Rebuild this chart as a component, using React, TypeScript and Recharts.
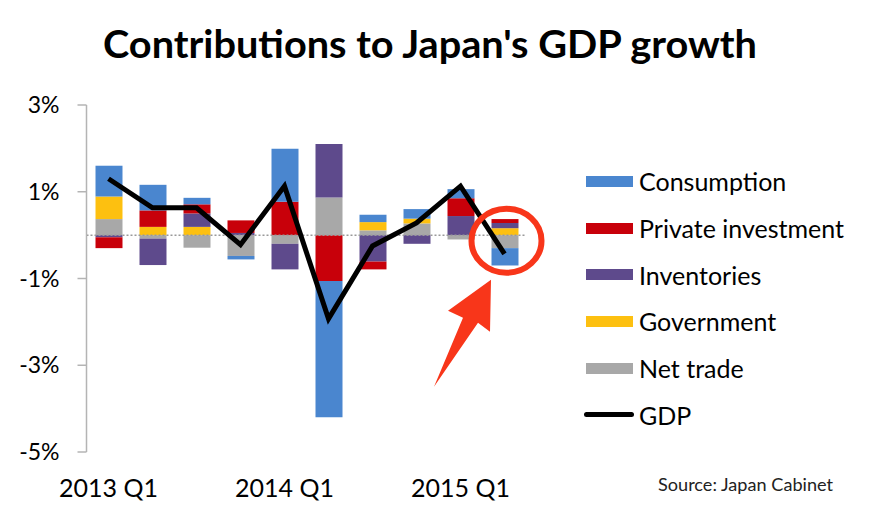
import React from 'react';
import { ComposedChart, Bar, Line, XAxis, YAxis, ReferenceLine, ReferenceDot, Legend } from 'recharts';

// quarterly contributions to real GDP growth, percentage points
const quarters = ['2013 Q1', '2013 Q2', '2013 Q3', '2013 Q4', '2014 Q1', '2014 Q2', '2014 Q3', '2014 Q4', '2015 Q1', '2015 Q2'];
const consumption = [0.71, 0.59, 0.15, -0.08, 1.22, -3.14, 0.17, 0.22, 0.21, -0.4];
const privateInvestment = [-0.25, 0.38, 0.21, 0.29, 0.77, -1.06, -0.18, 0, 0.41, 0.09];
const inventories = [-0.05, -0.61, 0.31, 0.05, -0.59, 1.23, -0.61, -0.2, 0.44, 0.12];
const government = [0.52, 0.19, 0.19, 0, 0, 0, 0.19, 0.11, 0, 0.16];
const netTrade = [0.37, -0.08, -0.29, -0.48, -0.2, 0.87, 0.11, 0.27, -0.1, -0.3];
const gdp = [1.3, 0.63, 0.63, -0.22, 1.13, -1.93, -0.25, 0.28, 1.13, -0.43];
const yTicks = [-5, -3, -1, 1, 3];

const COLORS = {
  consumption: '#4a86cf',
  privateInvestment: '#c8000a',
  inventories: '#5e4a8c',
  government: '#fdc010',
  netTrade: '#a8a8a8',
  gdp: '#000000',
};

// legend order differs from stacking order
const legendItems = [
  { name: 'Consumption', color: COLORS.consumption, line: false },
  { name: 'Private investment', color: COLORS.privateInvestment, line: false },
  { name: 'Inventories', color: COLORS.inventories, line: false },
  { name: 'Government', color: COLORS.government, line: false },
  { name: 'Net trade', color: COLORS.netTrade, line: false },
  { name: 'GDP', color: COLORS.gdp, line: true },
];

const data = quarters.map((q, i) => ({
  quarter: q,
  netTrade: netTrade[i],
  government: government[i],
  inventories: inventories[i],
  privateInvestment: privateInvestment[i],
  consumption: consumption[i],
  gdp: gdp[i],
}));

const FONT = 'Lato, "Open Sans", sans-serif';

const renderLegend = () => (
  <div style={{ fontFamily: FONT, fontSize: 25, color: '#000' }}>
    {legendItems.map(item => (
      <div key={item.name} style={{ height: 46.7, display: 'flex', alignItems: 'center' }}>
        {item.line ? (
          <span style={{ display: 'inline-block', width: 50, height: 5, borderRadius: 3, background: item.color, marginLeft: -2, marginRight: 5 }} />
        ) : (
          <span style={{ display: 'inline-block', width: 47, height: 11, background: item.color, marginRight: 6 }} />
        )}
        <span>{item.name}</span>
      </div>
    ))}
  </div>
);

// red circle + arrow pointing at the latest quarter
const Annotation = (props: any) => {
  const { cx, cy } = props;
  const pts = [
    [-70.5, 146], [-41.5, 77], [-56.5, 70], [-13.5, 39], [-14.5, 91], [-26.5, 82],
  ].map(([dx, dy]) => `${cx + dx},${cy + dy}`).join(' ');
  return (
    <g>
      <ellipse cx={cx + 2} cy={cy} rx={35} ry={32} fill="none" stroke="#f8361a" strokeWidth={6} />
      <polygon points={pts} fill="#f8361a" />
    </g>
  );
};

export default function App() {
  return (
    <div style={{ margin: -8, position: 'relative', width: 872, height: 521, background: '#fff', fontFamily: FONT }}>
      <svg width={872} height={521} style={{ position: 'absolute', left: 0, top: 0, pointerEvents: 'none' }}>
        <text x={103} y={58} fontFamily={FONT} fontWeight={700} fontSize={39} fill="#000" textLength={654} lengthAdjust="spacingAndGlyphs">
          Contributions to Japan's GDP growth
        </text>
        <text x={658} y={491} fontFamily={FONT} fontSize={17} fill="#222" textLength={175} lengthAdjust="spacingAndGlyphs">
          Source: Japan Cabinet
        </text>
      </svg>
      <ComposedChart
        width={872}
        height={521}
        data={data}
        stackOffset="sign"
        margin={{ top: 105, right: 345.5, left: 16.5, bottom: 29 }}
      >
        <XAxis
          dataKey="quarter"
          interval={3}
          axisLine={false}
          tickLine={false}
          tickSize={0}
          tickMargin={27}
          height={40}
          tick={{ fontSize: 25, fill: '#000', fontFamily: FONT }}
        />
        <YAxis
          domain={[-5, 3]}
          ticks={yTicks}
          width={70}
          tickFormatter={v => `${v}%`}
          axisLine={{ stroke: '#b4b4b4', strokeWidth: 1.5 }}
          tickLine={{ stroke: '#b4b4b4', strokeWidth: 1.5 }}
          tickSize={9}
          tickMargin={18}
          tick={{ fontSize: 23, fill: '#000', fontFamily: FONT }}
        />
        <ReferenceLine y={0} stroke="#9a9a9a" strokeWidth={1.5} strokeDasharray="2 2" />
        <Bar dataKey="netTrade" name="Net trade" stackId="a" fill={COLORS.netTrade} barSize={27} isAnimationActive={false} />
        <Bar dataKey="government" name="Government" stackId="a" fill={COLORS.government} barSize={27} isAnimationActive={false} />
        <Bar dataKey="inventories" name="Inventories" stackId="a" fill={COLORS.inventories} barSize={27} isAnimationActive={false} />
        <Bar dataKey="privateInvestment" name="Private investment" stackId="a" fill={COLORS.privateInvestment} barSize={27} isAnimationActive={false} />
        <Bar dataKey="consumption" name="Consumption" stackId="a" fill={COLORS.consumption} barSize={27} isAnimationActive={false} />
        <Line type="linear" dataKey="gdp" name="GDP" stroke={COLORS.gdp} strokeWidth={5} dot={false} isAnimationActive={false} />
        <ReferenceDot x="2015 Q2" y={-0.13} r={35} shape={Annotation} />
        <Legend
          layout="vertical"
          align="center"
          verticalAlign="middle"
          content={renderLegend}
          wrapperStyle={{ left: 586, top: 158, width: 286, height: 'auto' }}
        />
      </ComposedChart>
    </div>
  );
}
